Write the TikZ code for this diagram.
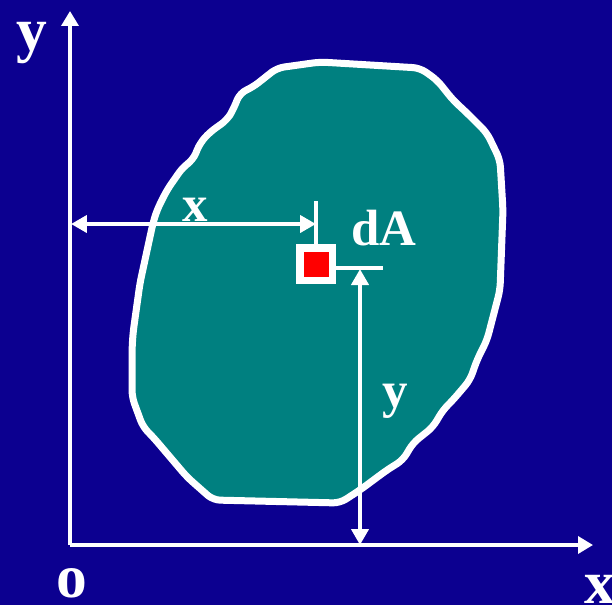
\documentclass[tikz,border=0pt]{standalone}
\usepackage{fontspec}
\setmainfont{Liberation Serif}
\usetikzlibrary{arrows.meta}
\definecolor{slidebg}{HTML}{0C0090}
\definecolor{areateal}{HTML}{008080}
\definecolor{elemred}{HTML}{FF0000}
\tikzset{
  axis/.style={-{Triangle[length=0.3cm,width=0.34cm]},line width=0.07cm,white},
  dim/.style={{Triangle[length=0.32cm,width=0.34cm]}-{Triangle[length=0.32cm,width=0.34cm]},line width=0.085cm,white},
  tick/.style={line width=0.065cm,white},
  lbl/.style={text=white,inner sep=0pt,font=\fontsize{29}{30}\selectfont\bfseries},
  biglbl/.style={lbl,font=\fontsize{35}{36}\selectfont\bfseries},
}

\begin{document}
\begin{tikzpicture}[x=0.02cm,y=-0.02cm]
  \fill[slidebg] (0,0) rectangle (612,605);
  \useasboundingbox (0,0) rectangle (612,605);
  % area
  \draw[white,line width=0.14cm,fill=areateal,rounded corners=4pt,line join=round]
    (277,68) -- (320,62) -- (420,68) -- (437,80) -- (453,100) -- (467,113) -- (487,133)
    -- (500,160) -- (503,210) -- (500,290) -- (487,340) -- (477,360) -- (470,380)
    -- (453,400) -- (443,410) -- (433,427) -- (413,443) -- (403,460) -- (387,470)
    -- (360,490) -- (340,503) -- (213,500) -- (187,477) -- (153,437) -- (143,427)
    -- (132,397) -- (132,350) -- (133,333) -- (140,283) -- (153,223) -- (157,210)
    -- (167,190) -- (183,167) -- (193,160) -- (200,143) -- (210,132) -- (227,120)
    -- (233,110) -- (240,93) -- (253,87) -- cycle;
  % axes
  \coordinate (O) at (70,545);
  \coordinate (ytip) at (70,11);
  \coordinate (xtip) at (593,545);
  \draw[axis] (O) -- (ytip);
  \draw[axis] (O) -- (xtip);
  \node[biglbl] (ylab) at (32,43) {y};
  \node[biglbl] (olab) at (72,583) {o};
  \node[biglbl] (xlab) at (600,589) {x};
  % element
  \node[draw=white,fill=elemred,line width=0.16cm,minimum size=0.66cm,inner sep=0pt] (elem) at (316,264) {};
  \coordinate (xtick) at (316,201);
  \coordinate (ytick) at (383,268);
  \draw[tick] (xtick) -- (elem.north);
  \draw[tick] (elem.east |- ytick) -- (ytick);
  \node[lbl] (dalab) at (384,228) {dA};
  % distances
  \coordinate (xstart) at (71,224);
  \coordinate (ystart) at (360,269);
  \draw[dim] (xstart) -- (xstart -| xtick);
  \draw[dim] (ystart) -- (ystart |- O);
  \node[lbl] (xdlab) at (195,210) {x};
  \node[lbl] (ydlab) at (395,401) {y};
\end{tikzpicture}
\end{document}
